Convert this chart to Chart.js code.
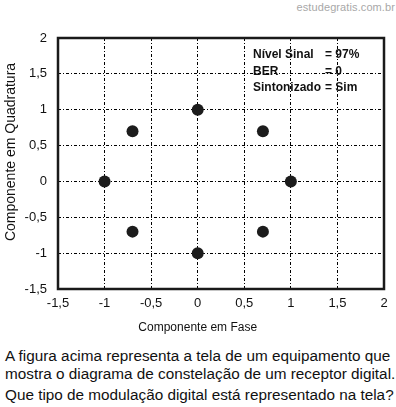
<!DOCTYPE html>
<html>
<head>
<meta charset="utf-8">
<script src="https://cdn.jsdelivr.net/npm/chart.js@4.4.1/dist/chart.umd.min.js"></script>
<style>
  html, body { margin: 0; padding: 0; background: #fff; }
  body { width: 396px; height: 407px; position: relative; overflow: hidden; font-family: "Liberation Sans", Arial, sans-serif; }
  #chart { position: absolute; left: 0; top: 0; }
  .mark { position: absolute; right: 1px; top: 1px; font-size: 11px; color: #a8a8a8; letter-spacing: 0.1px; }
  .txt { position: absolute; left: 5px; font-size: 15.3px; color: #111; white-space: nowrap; line-height: 18px; }
</style>
</head>
<body>
<div class="mark">estudegratis.com.br</div>
<canvas id="chart" width="396" height="340"></canvas>
<div class="txt" style="top:347px">A figura acima representa a tela de um equipamento que</div>
<div class="txt" style="top:365px">mostra o diagrama de constelação de um receptor digital.</div>
<div class="txt" style="top:386px">Que tipo de modulação digital está representado na tela?</div>
<script>
// constellation points (8 symbols)
const inPhase    = [1, 0.7, 0, -0.7, -1, -0.7, 0, 0.7];
const quadrature = [0, 0.7, 1, 0.7, 0, -0.7, -1, -0.7];

const axisMin = -1.5;
const axisMax = 2;
const axisStep = 0.5;

const infoLabels = ['Nível Sinal', 'BER', 'Sintonizado'];
const infoValues = ['= 97%', '= 0', '= Sim'];

const xTitle = 'Componente em Fase';
const yTitle = 'Componente em Quadratura';

const fmt = v => String(v).replace('.', ',');
const FONT = '"Liberation Sans", Arial, sans-serif';

const gridColor = (c) => {
  const n = c.scale.ticks.length;
  return (c.index === 0 || c.index === n - 1) ? 'rgba(0,0,0,0)' : '#000';
};

const extras = {
  id: 'extras',
  afterDraw(chart) {
    const ctx = chart.ctx;
    const a = chart.chartArea;
    const xs = chart.scales.x;

    ctx.save();
    ctx.strokeStyle = '#1a1a1a';
    ctx.lineWidth = 2.5;
    ctx.strokeRect(a.left, a.top, a.right - a.left, a.bottom - a.top);

    ctx.fillStyle = '#111';
    ctx.textAlign = 'center';
    ctx.textBaseline = 'middle';
    ctx.font = '12px ' + FONT;
    ctx.fillText(xTitle, xs.getPixelForValue(0), 328);

    ctx.save();
    ctx.translate(11, 152);
    ctx.rotate(-Math.PI / 2);
    ctx.font = '14px ' + FONT;
    ctx.fillText(yTitle, 0, 0);
    ctx.restore();

    ctx.textAlign = 'left';
    ctx.textBaseline = 'alphabetic';
    ctx.font = 'bold 12px ' + FONT;
    infoLabels.forEach((t, i) => {
      const y = 58 + i * 16.5;
      ctx.fillText(t, 253, y);
      ctx.fillText(infoValues[i], 325, y);
    });
    ctx.restore();
  }
};

new Chart(document.getElementById('chart'), {
  type: 'scatter',
  data: {
    datasets: [{
      data: inPhase.map((x, i) => ({ x: x, y: quadrature[i] })),
      backgroundColor: '#1c1c1c',
      borderWidth: 0,
      pointRadius: 6,
      pointHoverRadius: 6
    }]
  },
  options: {
    responsive: false,
    devicePixelRatio: 1,
    animation: false,
    layout: { padding: { top: 38, right: 12, left: 0, bottom: 0 } },
    plugins: { legend: { display: false }, tooltip: { enabled: false } },
    scales: {
      x: {
        type: 'linear',
        min: axisMin, max: axisMax,
        afterFit: s => { s.height = 51; },
        ticks: {
          stepSize: axisStep,
          callback: fmt,
          color: '#111',
          padding: 7,
          maxRotation: 0,
          font: { family: FONT, size: 13 }
        },
        grid: { color: gridColor, lineWidth: 1, drawTicks: false },
        border: { display: false, dash: [3, 2, 1, 2] }
      },
      y: {
        type: 'linear',
        min: axisMin, max: axisMax,
        afterFit: s => { s.width = 58; },
        ticks: {
          stepSize: axisStep,
          callback: fmt,
          color: '#111',
          padding: 11,
          font: { family: FONT, size: 13 }
        },
        grid: { color: gridColor, lineWidth: 1, drawTicks: false },
        border: { display: false, dash: [3, 2, 1, 2] }
      }
    }
  },
  plugins: [extras]
});
</script>
</body>
</html>
